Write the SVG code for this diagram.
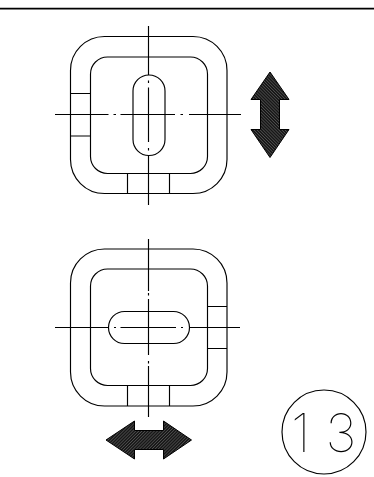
<svg xmlns="http://www.w3.org/2000/svg" width="374" height="477" viewBox="0 0 374 477">
<style>
.l{fill:none;stroke:#000;stroke-width:1.150}
.t{font-family:"Inter","Liberation Sans",sans-serif;font-weight:100;font-size:53px;fill:#000}
</style>
<defs>
<pattern id="h1" width="2.2" height="2.2" patternUnits="userSpaceOnUse" patternTransform="rotate(45)"><rect width="2.2" height="2.2" fill="#181818"/><rect width="2.2" height="0.6" fill="#5c5c5c"/></pattern>
<pattern id="h2" width="2.2" height="2.2" patternUnits="userSpaceOnUse" patternTransform="rotate(-45)"><rect width="2.2" height="2.2" fill="#181818"/><rect width="2.2" height="0.6" fill="#5c5c5c"/></pattern>
</defs>
<rect width="374" height="477" fill="#fff"/>
<path d="M0 8.600H374" stroke="#000" stroke-width="1.600"/>
<g id="part-top">
<rect class="l" x="70.500" y="36.500" width="156.500" height="157" rx="34"/>
<rect class="l" x="90.500" y="57" width="117" height="116.500" rx="17"/>
<rect class="l" x="133" y="75" width="32" height="80.500" rx="16"/>
<path class="l" d="M70.500 93.500H90.500M70.500 136H90.500M127.500 173.500V193.500M169.500 173.500V193.500"/>
<path class="l" d="M55 114.500H108.500M113.500 114.500H116M120.500 114.500H175M180.500 114.500H183M189 114.500H241M148.500 26V75M148.500 80.500V83M148.500 87.500V142M148.500 148V150.500M148.500 155V205"/>
</g>
<g id="arrow-vertical">
<path d="M270 72L289 99.500H279.500V129.500H289L270 157.500L251 129.500H260.500V99.500H251Z" fill="url(#h1)" stroke="#000"/>
</g>
<g id="part-bottom">
<rect class="l" x="70.500" y="249" width="156.500" height="157" rx="34"/>
<rect class="l" x="90.500" y="269" width="117" height="116.500" rx="17"/>
<rect class="l" x="108.500" y="311.500" width="81" height="32" rx="16"/>
<path class="l" d="M207.500 306.500H227M207.500 348.500H227M127.500 385.500V406M169.500 385.500V406"/>
<path class="l" d="M55 327.500H108.500M114 327.500H116M120.500 327.500H176M181 327.500H183M189.500 327.500H240M148.500 239V291M148.500 293V295.500M148.500 299V355M148.500 361V363.500M148.500 366V417"/>
</g>
<g id="arrow-horizontal">
<path d="M106 440L134.500 421V430.500H163.500V421L191.500 440L163.500 459V449.500H134.500V459Z" fill="url(#h2)" stroke="#000"/>
</g>
<g id="label-13">
<circle class="l" cx="324" cy="432" r="42"/>
<text class="t" y="452"><tspan x="291">1</tspan><tspan x="325.500">3</tspan></text>
</g>
</svg>
